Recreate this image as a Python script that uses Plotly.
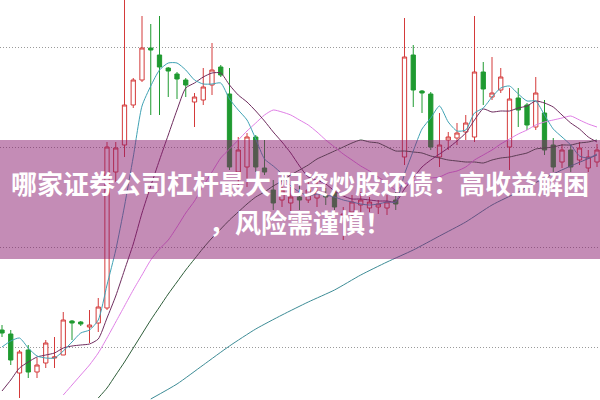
import plotly.graph_objects as go

# ---------------- data (price units, arbitrary) ----------------
idx = list(range(69))
opens = [70, 66, 27, 50, 28, 37, 42, 45, 79, 78,
         73, 77, 92, 228, 255, 295, 320, 352, 345, 332,
         326, 320, 298, 300, 315, 333, 306, 228, 233, 263,
         232, 210, 200, 197, 203, 200, 202, 205, 208, 182,
         188, 195, 192, 193, 192, 200, 243, 345, 309, 306,
         243, 260, 262, 268, 263, 328, 303, 310, 253, 302,
         295, 273, 287, 255, 238, 250, 240, 232, 238]
highs = [75, 70, 50, 55, 42, 60, 63, 88, 80, 79,
         90, 102, 258, 258, 405, 322, 384, 376, 384, 333,
         328, 322, 307, 332, 357, 335, 332, 263, 267, 265,
         260, 220, 227, 213, 215, 220, 220, 212, 212, 193,
         205, 208, 203, 200, 205, 208, 382, 355, 310, 308,
         287, 268, 277, 285, 384, 338, 343, 332, 312, 312,
         297, 323, 300, 262, 256, 255, 258, 250, 256]
lows = [63, 35, 2, 22, 22, 32, 32, 45, 60, 74,
        57, 68, 90, 218, 243, 292, 318, 285, 285, 303,
        301, 303, 273, 295, 305, 323, 230, 213, 213, 228,
        225, 190, 193, 187, 190, 197, 193, 195, 190, 160,
        180, 188, 188, 186, 185, 190, 235, 293, 287, 250,
        233, 250, 255, 260, 258, 295, 300, 307, 230, 273,
        270, 270, 245, 228, 232, 228, 235, 228, 233]
closes = [67, 40, 48, 28, 35, 57, 43, 80, 77, 76,
          75, 93, 253, 252, 295, 320, 352, 350, 333, 329,
          321, 315, 303, 313, 330, 325, 233, 250, 263, 233,
          228, 197, 210, 203, 200, 210, 208, 203, 193, 186,
          198, 200, 198, 196, 198, 196, 343, 310, 307, 253,
          255, 263, 267, 277, 328, 311, 307, 323, 301, 290,
          275, 307, 250, 233, 250, 233, 252, 243, 250]

ma5 = [53, 59, 62, 52, 44, 42, 42, 49, 58, 67,
       70, 80, 115, 150, 194, 243, 294, 314, 330, 337,
       337, 330, 320, 316, 316, 317, 301, 290, 280, 261,
       241, 234, 226, 214, 208, 204, 206, 205, 203, 200,
       198, 196, 195, 196, 198, 198, 226, 249, 271, 282,
       294, 278, 269, 270, 287, 292, 303, 312, 314, 306,
       299, 299, 285, 271, 263, 255, 244, 242, 246]
ma10 = [9, 20, 32, 38, 43, 45, 47, 52, 54, 55,
        56, 61, 82, 104, 130, 156, 187, 214, 240, 265,
        290, 312, 317, 323, 327, 327, 315, 305, 298, 289,
        279, 268, 258, 247, 234, 223, 220, 216, 209, 204,
        201, 201, 200, 199, 199, 198, 211, 222, 233, 240,
        246, 252, 259, 267, 280, 291, 288, 289, 289, 292,
        294, 299, 297, 293, 285, 277, 271, 263, 258]
ma20 = [None, None, None, None, None, None, None, 5, 15, 25,
        35, 47, 62, 78, 94, 110, 125, 140, 151, 160,
        173, 187, 199, 214, 228, 242, 251, 260, 269, 277,
        285, 290, 288, 285, 280, 275, 268, 260, 253, 246,
        240, 234, 229, 223, 217, 210, 216, 219, 221, 222,
        223, 227, 229, 233, 240, 245, 250, 256, 261, 266,
        270, 275, 278, 280, 282, 284, 280, 276, 273]
ma30 = [None, None, None, None, None, None, None, None, None, None,
        None, 2, 12, 25, 38, 52, 66, 80, 93, 106,
        118, 130, 141, 152, 162, 171, 180, 188, 196, 203,
        208, 214, 219, 225, 230, 235, 241, 245, 249, 253,
        257, 260, 258, 257, 253, 249, 249, 248, 247, 244,
        242, 240, 239, 238, 238, 237, 240, 242, 243, 245,
        247, 251, 252, 253, 255, 255, 257, 258, 260]
ma60_x = [17, 20, 23, 26, 29, 32, 35, 38, 41, 44, 47, 50, 53, 56, 59, 62, 65, 68]
ma60 = [1, 16, 35, 54, 71, 85, 98, 110, 125, 138, 150, 164, 178, 195, 208, 222, 234, 245]

grid_levels = [53, 153, 253, 353]
title_line1 = "哪家证券公司杠杆最大 配资炒股还债：高收益解困"
title_line2 = "，风险需谨慎！"

# ---------------- figure ----------------
fig = go.Figure()
fig.add_trace(go.Candlestick(
    x=idx, open=opens, high=highs, low=lows, close=closes,
    increasing=dict(line=dict(color="#d43a3a", width=1), fillcolor="#ffffff"),
    decreasing=dict(line=dict(color="#1f9a30", width=1), fillcolor="#1f9a30"),
    hoverinfo="skip", showlegend=False,
))

def ma_line(x, y, color):
    fig.add_trace(go.Scatter(x=x, y=y, mode="lines",
                             line=dict(color=color, width=1, shape="spline", smoothing=0.6),
                             hoverinfo="skip", showlegend=False, connectgaps=False))

ma_line(ma60_x, ma60, "#3d8c96")
ma_line(idx, ma30, "#2f5e3a")
ma_line(idx, ma20, "#e07fe6")
ma_line(idx, ma10, "#6e2c5e")
ma_line(idx, ma5, "#3fa2b4")

# translucent banner: over white it gives #c48cb6, darkens what lies beneath
fig.add_shape(type="rect", xref="paper", x0=0, x1=1, yref="y", y0=141, y1=260,
              fillcolor="rgb(137,25,109)", line=dict(width=0), layer="above", opacity=0.5)

fig.add_annotation(x=0.5, xref="paper", y=218, yref="y", text="<b>" + title_line1 + "</b>",
                   showarrow=False, font=dict(family="Noto Sans CJK SC", size=26, color="#ffffff"),
                   xanchor="center", yanchor="middle")
fig.add_annotation(x=0.5, xref="paper", y=179, yref="y", text="<b>" + title_line2 + "</b>",
                   showarrow=False, font=dict(family="Noto Sans CJK SC", size=26, color="#ffffff"),
                   xanchor="center", yanchor="middle")

fig.update_layout(
    width=600, height=400, margin=dict(l=0, r=0, t=0, b=0),
    paper_bgcolor="#ffffff", plot_bgcolor="#ffffff", showlegend=False,
    xaxis=dict(range=[-0.2286, 68.343], visible=False, rangeslider=dict(visible=False), fixedrange=True),
    yaxis=dict(range=[0, 400], tickvals=grid_levels, showticklabels=False, showgrid=True,
               gridcolor="#9a9a9a", gridwidth=1, griddash="1px,2px", zeroline=False,
               showline=False, ticks="", fixedrange=True),
)

post = """
document.body.style.margin = '0';
document.body.style.padding = '0';
"""
fig.write_html("out.html", post_script=post, config={"displayModeBar": False, "staticPlot": True})
